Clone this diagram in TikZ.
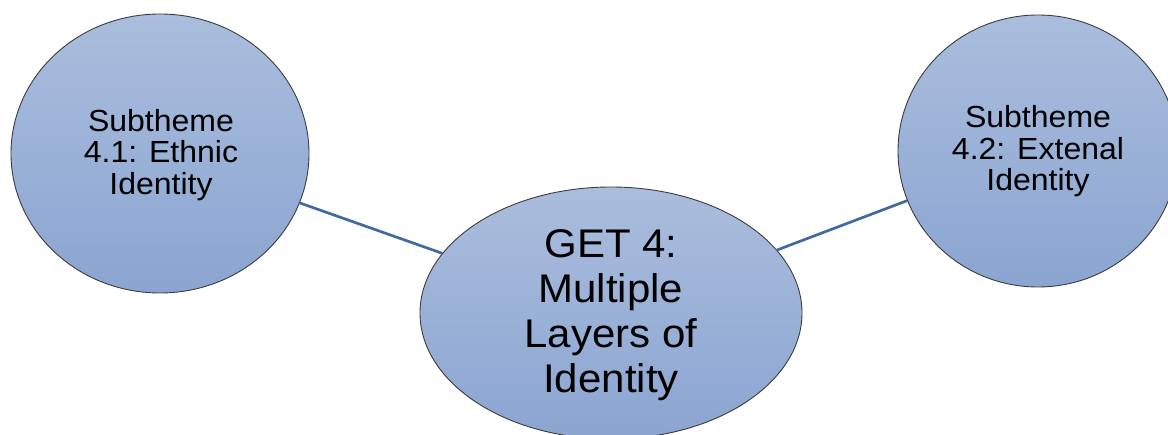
\documentclass[tikz,border=0pt]{standalone}
\usepackage{fontspec}
\setmainfont{Liberation Sans}
\newfontfamily\bubblefont[FakeStretch=1.05]{Liberation Sans}
\usetikzlibrary{shapes.geometric}

\definecolor{bubbletop}{RGB}{170,189,221}
\definecolor{bubblebottom}{RGB}{139,165,209}
\definecolor{bubbleedge}{RGB}{60,60,60}
\definecolor{linkblue}{RGB}{66,106,160}

\tikzset{
  bubble/.style={ellipse, inner sep=0pt, draw=bubbleedge, line width=0.9pt,
    top color=bubbletop, bottom color=bubblebottom},
  subtext/.style={align=center, inner sep=0pt,
    font=\bubblefont\fontsize{30.5}{31.3}\selectfont},
  maintext/.style={align=center, inner sep=0pt,
    font=\bubblefont\fontsize{40}{45}\selectfont},
  link/.style={draw=linkblue, line width=2.7pt}
}

\begin{document}
\begin{tikzpicture}[x=1pt,y=-1pt]
  \useasboundingbox (0,0) rectangle (1168,435);
  \clip (0,0) rectangle (1168,435);

  % theme bubbles
  \node[bubble, minimum width=298pt, minimum height=279pt] (ethnic) at (160,153.5) {};
  \node[bubble, minimum width=280pt, minimum height=272pt] (external) at (1038,151) {};
  \node[bubble, minimum width=382pt, minimum height=252pt] (get) at (611,313) {};

  % connectors between the central theme and its subthemes
  \draw[link] (ethnic) -- (get);
  \draw[link] (external) -- (get);

  % labels
  \node[subtext] (ethnictext) at (161,155) {Subtheme\\4.1: Ethnic\\Identity};
  \node[subtext] (externaltext) at (1038,151.3) {Subtheme\\4.2: Extenal\\Identity};
  \node[maintext] (gettext) at (611,315) {GET 4:\\Multiple\\Layers of\\Identity};
\end{tikzpicture}
\end{document}
